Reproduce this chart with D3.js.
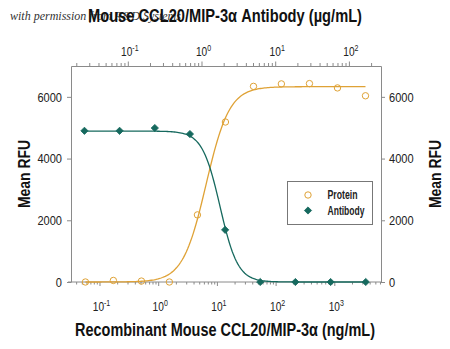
<!DOCTYPE html>
<html>
<head>
<meta charset="utf-8">
<script src="https://cdn.jsdelivr.net/npm/d3@7"></script>
<style>
  html, body { margin: 0; padding: 0; background: #fff; }
  svg { display: block; }
  .nar { font-family: "Liberation Sans Narrow", "Liberation Sans", Arial, sans-serif; }
</style>
</head>
<body>
<svg id="chart" width="450" height="349"></svg>
<script>
// ---- data ----
const proteinConc = [0.0565, 0.169, 0.508, 1.52, 4.57, 13.7, 41.2, 123, 370, 1111, 3333]; // ng/mL
const proteinRFU  = [0, 50, 30, 0, 2175, 5185, 6340, 6420, 6430, 6290, 6035];
const antibodyConc = [0.0254, 0.0762, 0.229, 0.686, 2.06, 6.17, 18.5, 55.6, 166.7]; // µg/mL
const antibodyRFU  = [4900, 4900, 4990, 4795, 1690, 0, 0, 0, 0];
// 4-parameter logistic fit parameters
const proteinFit  = { bottom: 0, top: 6330, ec50: 6.42, hill: 2.19 };
const antibodyFit = { bottom: 0, top: 4890, ec50: 1.757, hill: -3.6 };
const bottomTicks = [0.1, 1, 10, 100, 1000];
const topTicks = [0.1, 1, 10, 100];
const yTicks = [0, 2000, 4000, 6000];
const seriesNames = ["Protein", "Antibody"];

const titleTop = "Mouse CCL20/MIP-3\u03B1 Antibody (\u00B5g/mL)";
const titleBottom = "Recombinant Mouse CCL20/MIP-3\u03B1 (ng/mL)";
const yTitle = "Mean RFU";
const watermark = "with permission from R&D Systems";

// ---- layout ----
const L = 71, R = 381, T = 66, B = 282;
const orange = "#DFA236", teal = "#16695E", axisCol = "#8a8a8a";

const svg = d3.select("#chart");

const xB = d3.scaleLog().domain([Math.pow(10, -1.494), Math.pow(10, 3.787)]).range([L, R]);
const xT = d3.scaleLog().domain([Math.pow(10, -1.7775), Math.pow(10, 2.4288)]).range([L, R]);
const y = d3.scaleLinear().domain([0, 7000]).range([B, T]);

// watermark (under title)
svg.append("text").attr("x", 10).attr("y", 20)
  .attr("font-family", "'Liberation Serif', 'DejaVu Serif', serif")
  .attr("font-style", "italic").attr("font-size", 12).attr("fill", "#333")
  .text(watermark);

// titles
svg.append("text").attr("class", "nar").attr("x", 225).attr("y", 22)
  .attr("text-anchor", "middle").attr("font-weight", "bold").attr("font-size", 18)
  .attr("textLength", 274).attr("lengthAdjust", "spacingAndGlyphs")
  .attr("fill", "#111").text(titleTop);
svg.append("text").attr("class", "nar").attr("x", 225).attr("y", 336)
  .attr("text-anchor", "middle").attr("font-weight", "bold").attr("font-size", 18)
  .attr("textLength", 300).attr("lengthAdjust", "spacingAndGlyphs")
  .attr("fill", "#111").text(titleBottom);
svg.append("text").attr("class", "nar")
  .attr("transform", "translate(30,174) rotate(-90)")
  .attr("text-anchor", "middle").attr("font-weight", "bold").attr("font-size", 17)
  .attr("textLength", 68).attr("lengthAdjust", "spacingAndGlyphs")
  .attr("fill", "#111").text(yTitle);
svg.append("text").attr("class", "nar")
  .attr("transform", "translate(441,174) rotate(-90)")
  .attr("text-anchor", "middle").attr("font-weight", "bold").attr("font-size", 17)
  .attr("textLength", 68).attr("lengthAdjust", "spacingAndGlyphs")
  .attr("fill", "#111").text(yTitle);

// log axes with minor ticks
function logTicks(scale) {
  const [a, b] = scale.domain();
  const out = [];
  for (let e = Math.floor(Math.log10(a)); e <= Math.ceil(Math.log10(b)); e++) {
    for (let m = 1; m < 10; m++) {
      const v = m * Math.pow(10, e);
      if (v >= a && v <= b) out.push({ v, major: m === 1 });
    }
  }
  return out;
}
function supLabel(sel, v) {
  const e = Math.round(Math.log10(v));
  const s = e < 0 ? "-" + (-e) : String(e);
  sel.append("tspan").text("10");
  sel.append("tspan").attr("dy", -5).attr("font-size", 9).text(s);
}

// bottom axis
const gB = svg.append("g").attr("transform", `translate(0,${B})`);
gB.call(d3.axisBottom(xB).tickValues([]).tickSizeOuter(0));
gB.selectAll(".domain").attr("stroke", axisCol).attr("d", `M${L - 3},0H${R}`);
gB.selectAll(".minor").data(logTicks(xB)).join("line")
  .attr("x1", d => xB(d.v)).attr("x2", d => xB(d.v))
  .attr("y1", 0).attr("y2", d => d.major ? 4 : 2.5).attr("stroke", axisCol);
gB.selectAll(".lbl").data(bottomTicks).join("text").attr("class", "nar")
  .attr("transform", d => `translate(${xB(d) + 1.5},29) scale(0.78,1)`)
  .attr("text-anchor", "middle").attr("font-size", 13).attr("fill", "#222")
  .each(function (d) { supLabel(d3.select(this), d); });

// top axis
const gT = svg.append("g").attr("transform", `translate(0,${T})`);
gT.call(d3.axisTop(xT).tickValues([]).tickSizeOuter(0));
gT.selectAll(".domain").attr("stroke", axisCol);
gT.selectAll(".minor").data(logTicks(xT)).join("line")
  .attr("x1", d => xT(d.v)).attr("x2", d => xT(d.v))
  .attr("y1", 0).attr("y2", d => d.major ? -4.5 : -3).attr("stroke", axisCol);
gT.selectAll(".lbl").data(topTicks).join("text").attr("class", "nar")
  .attr("transform", d => `translate(${xT(d) + 1.5},-10) scale(0.78,1)`)
  .attr("text-anchor", "middle").attr("font-size", 13).attr("fill", "#222")
  .each(function (d) { supLabel(d3.select(this), d); });

// left axis
const gL = svg.append("g").attr("transform", `translate(${L},0)`);
gL.call(d3.axisLeft(y).tickValues(yTicks).tickSize(4).tickSizeOuter(0).tickFormat(d3.format("d")));
gL.selectAll(".domain").attr("stroke", axisCol);
gL.selectAll(".tick line").attr("stroke", axisCol);
gL.selectAll(".tick text").attr("class", "nar").attr("font-size", 13).attr("fill", "#222")
  .attr("x", null).attr("transform", "translate(-9,0) scale(0.85,1)");

// right axis
const gR = svg.append("g").attr("transform", `translate(${R},0)`);
gR.call(d3.axisRight(y).tickValues(yTicks).tickSize(4).tickSizeOuter(0).tickFormat(d3.format("d")));
gR.selectAll(".domain").attr("stroke", axisCol);
gR.selectAll(".tick line").attr("stroke", axisCol);
gR.selectAll(".tick text").attr("class", "nar").attr("font-size", 13).attr("fill", "#222")
  .attr("x", null).attr("transform", "translate(8,0) scale(0.85,1)");

// fitted curves
function fourPL(p, x) { return p.bottom + (p.top - p.bottom) / (1 + Math.pow(p.ec50 / x, p.hill)); }
function curvePts(p, xs) {
  const lo = Math.log10(d3.min(xs)), hi = Math.log10(d3.max(xs));
  return d3.range(0, 201).map(i => { const x = Math.pow(10, lo + (hi - lo) * i / 200); return [x, fourPL(p, x)]; });
}
const line = sc => d3.line().x(d => sc(d[0])).y(d => y(d[1]));
svg.append("path").datum(curvePts(proteinFit, proteinConc))
  .attr("d", line(xB)).attr("fill", "none").attr("stroke", orange).attr("stroke-width", 1.3);
svg.append("path").datum(curvePts(antibodyFit, antibodyConc))
  .attr("d", line(xT)).attr("fill", "none").attr("stroke", teal).attr("stroke-width", 1.3);

// points
svg.selectAll(".pp").data(proteinConc.map((c, i) => [c, proteinRFU[i]])).join("circle")
  .attr("cx", d => xB(d[0])).attr("cy", d => y(d[1])).attr("r", 3.2)
  .attr("fill", "none").attr("stroke", orange).attr("stroke-width", 1);
const diamond = d3.symbol().type(d3.symbolSquare).size(26);
svg.selectAll(".ap").data(antibodyConc.map((c, i) => [c, antibodyRFU[i]])).join("path")
  .attr("d", diamond)
  .attr("transform", d => `translate(${xT(d[0])},${y(d[1])}) rotate(45)`)
  .attr("fill", teal).attr("stroke", teal).attr("stroke-width", 0.8);

// legend
const legendWidths = [30, 37];
const lg = svg.append("g");
lg.append("rect").attr("x", 287.5).attr("y", 181.5).attr("width", 85).attr("height", 43)
  .attr("fill", "#fff").attr("stroke", "#777").attr("stroke-width", 1);
lg.append("circle").attr("cx", 308).attr("cy", 195).attr("r", 3.2)
  .attr("fill", "none").attr("stroke", orange).attr("stroke-width", 1);
lg.append("path").attr("d", diamond).attr("transform", "translate(308,210.5) rotate(45)")
  .attr("fill", teal).attr("stroke", teal).attr("stroke-width", 0.8);
lg.selectAll(".lt").data(seriesNames).join("text").attr("class", "nar")
  .attr("x", 327.5).attr("y", (d, i) => 199 + i * 15.5)
  .attr("font-size", 12).attr("font-weight", "bold").attr("fill", "#222")
  .attr("textLength", (d, i) => legendWidths[i]).attr("lengthAdjust", "spacingAndGlyphs")
  .text(d => d);
</script>
</body>
</html>
